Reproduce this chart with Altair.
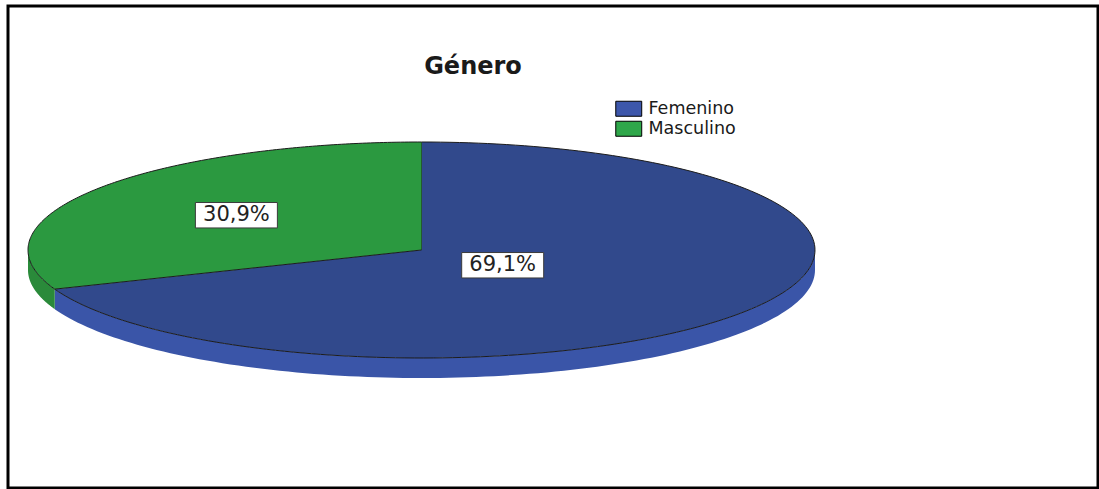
import altair as alt
import numpy as np
import pandas as pd

# ---- data ----
generos = ["Femenino", "Masculino"]
porcentajes = [69.1, 30.9]
etiquetas = ["69,1%", "30,9%"]

# ---- styles ----
color_cara = ["#31498c", "#2b9940"]
color_canto = ["#3a55a8", "#2a8a3a"]
color_leyenda = ["#3d57ab", "#2fa74a"]

# ---- layout constants (pixels) ----
PAD_L, PAD_T = 8, 6
W, H = 1090, 482
X_LEFT, X_RIGHT = 28 - PAD_L, 815 - PAD_L      # ellipse horizontal extremes
Y_TOP, Y_BOT = 142 - PAD_T, 358 - PAD_T        # ellipse vertical extremes
RIM_PX = 20

Dx = 2 * W / (X_RIGHT - X_LEFT)
xmin = -1 - X_LEFT * Dx / W
xmax = xmin + Dx
Dy = 2 * H / (Y_BOT - Y_TOP)
ymax = 1 + Y_TOP * Dy / H
ymin = ymax - Dy
rim = RIM_PX / ((Y_BOT - Y_TOP) / 2)

df = pd.DataFrame({"genero": generos, "pct": porcentajes, "etiqueta": etiquetas})
cum = np.cumsum(porcentajes)
df["a0"] = (cum - np.array(porcentajes)) * 3.6
df["a1"] = cum * 3.6

xs = alt.Scale(domain=[xmin, xmax], nice=False, zero=False)
ys = alt.Scale(domain=[ymin, ymax], nice=False, zero=False)


def X(f):
    return alt.X(f, type="quantitative", scale=xs, axis=None)


def Y(f):
    return alt.Y(f, type="quantitative", scale=ys, axis=None)


base = alt.Chart(df)

# hidden layer (behind the pie) that only carries the legend
leyenda = base.transform_calculate(z="0").mark_point(filled=True, size=4, opacity=1).encode(
    x=X("z"), y=Y("z"),
    fill=alt.Fill("genero:N", scale=alt.Scale(domain=generos, range=color_leyenda),
                  legend=alt.Legend(title=None, orient="none", legendX=612, legendY=94,
                                    symbolType="M-1.73,-1H1.73V1H-1.73Z", symbolSize=225,
                                    symbolStrokeColor="#000000", symbolStrokeWidth=1,
                                    symbolOpacity=1,
                                    labelFontSize=17.5, labelFont="DejaVu Sans",
                                    labelColor="#1a1a1a", labelOffset=11,
                                    rowPadding=0, padding=0)),
)

# side (thickness) of the 3D pie
canto = (
    base.transform_calculate(r0="max(datum.a0, 90)", r1="min(datum.a1, 270)")
    .transform_filter("datum.r1 > datum.r0")
    .transform_calculate(s="sequence(0, 121)")
    .transform_flatten(["s"])
    .transform_calculate(
        t="(datum.r0 + (datum.r1 - datum.r0) * datum.s / 120) * PI / 180",
    )
    .transform_calculate(fx="sin(datum.t)", fy="cos(datum.t)",
                         fy2=f"cos(datum.t) - {rim}")
    .mark_area(strokeWidth=0)
    .encode(
        x=X("fx"), y=Y("fy"), y2=alt.Y2("fy2:Q"),
        fill=alt.Fill("genero:N", scale=alt.Scale(domain=generos, range=color_canto), legend=None),
    )
)

# top face
cara = (
    base.transform_calculate(s="sequence(-1, 181)")
    .transform_flatten(["s"])
    .transform_calculate(
        t="(datum.a0 + (datum.a1 - datum.a0) * max(datum.s, 0) / 180) * PI / 180",
    )
    .transform_calculate(fx="datum.s < 0 ? 0 : sin(datum.t)",
                         fy="datum.s < 0 ? 0 : cos(datum.t)")
    .mark_line(stroke="#1c1c1c", strokeWidth=1, strokeJoin="round")
    .encode(
        x=X("fx"), y=Y("fy"), order=alt.Order("s:Q"),
        fill=alt.Fill("genero:N", scale=alt.Scale(domain=generos, range=color_cara), legend=None),
    )
)

lab = base.transform_calculate(
    m="(datum.a0 + datum.a1) / 2 * PI / 180",
    r="datum.pct > 50 ? 0.25 : 0.57",
).transform_calculate(lx="datum.r * sin(datum.m)", ly="datum.r * cos(datum.m)")

caja = lab.mark_point(shape="M-1,-0.31H1V0.31H-1Z", size=82 * 82, filled=True,
                      fill="white", stroke="#3a3a3a", strokeWidth=1, opacity=1).encode(
    x=X("lx"), y=Y("ly"))
texto = lab.mark_text(font="DejaVu Sans", fontSize=21, color="#222222").encode(
    x=X("lx"), y=Y("ly"), text="etiqueta:N")

chart = (
    alt.layer(leyenda, canto, cara, caja, texto)
    .resolve_scale(fill="independent")
    .properties(
        width=W, height=H,
        padding={"left": PAD_L, "top": PAD_T, "right": 1099 - PAD_L - W, "bottom": 489 - PAD_T - H},
        autosize=alt.AutoSizeParams(type="none"),
        title=alt.Title("Género", font="DejaVu Sans", fontSize=24, fontWeight="bold",
                        color="#1a1a1a", anchor="middle", offset=-73, dx=-80),
    )
    .configure_view(stroke="#000000", strokeWidth=3)
)

chart.save("out.html", embed_options={"renderer": "svg", "actions": False})
